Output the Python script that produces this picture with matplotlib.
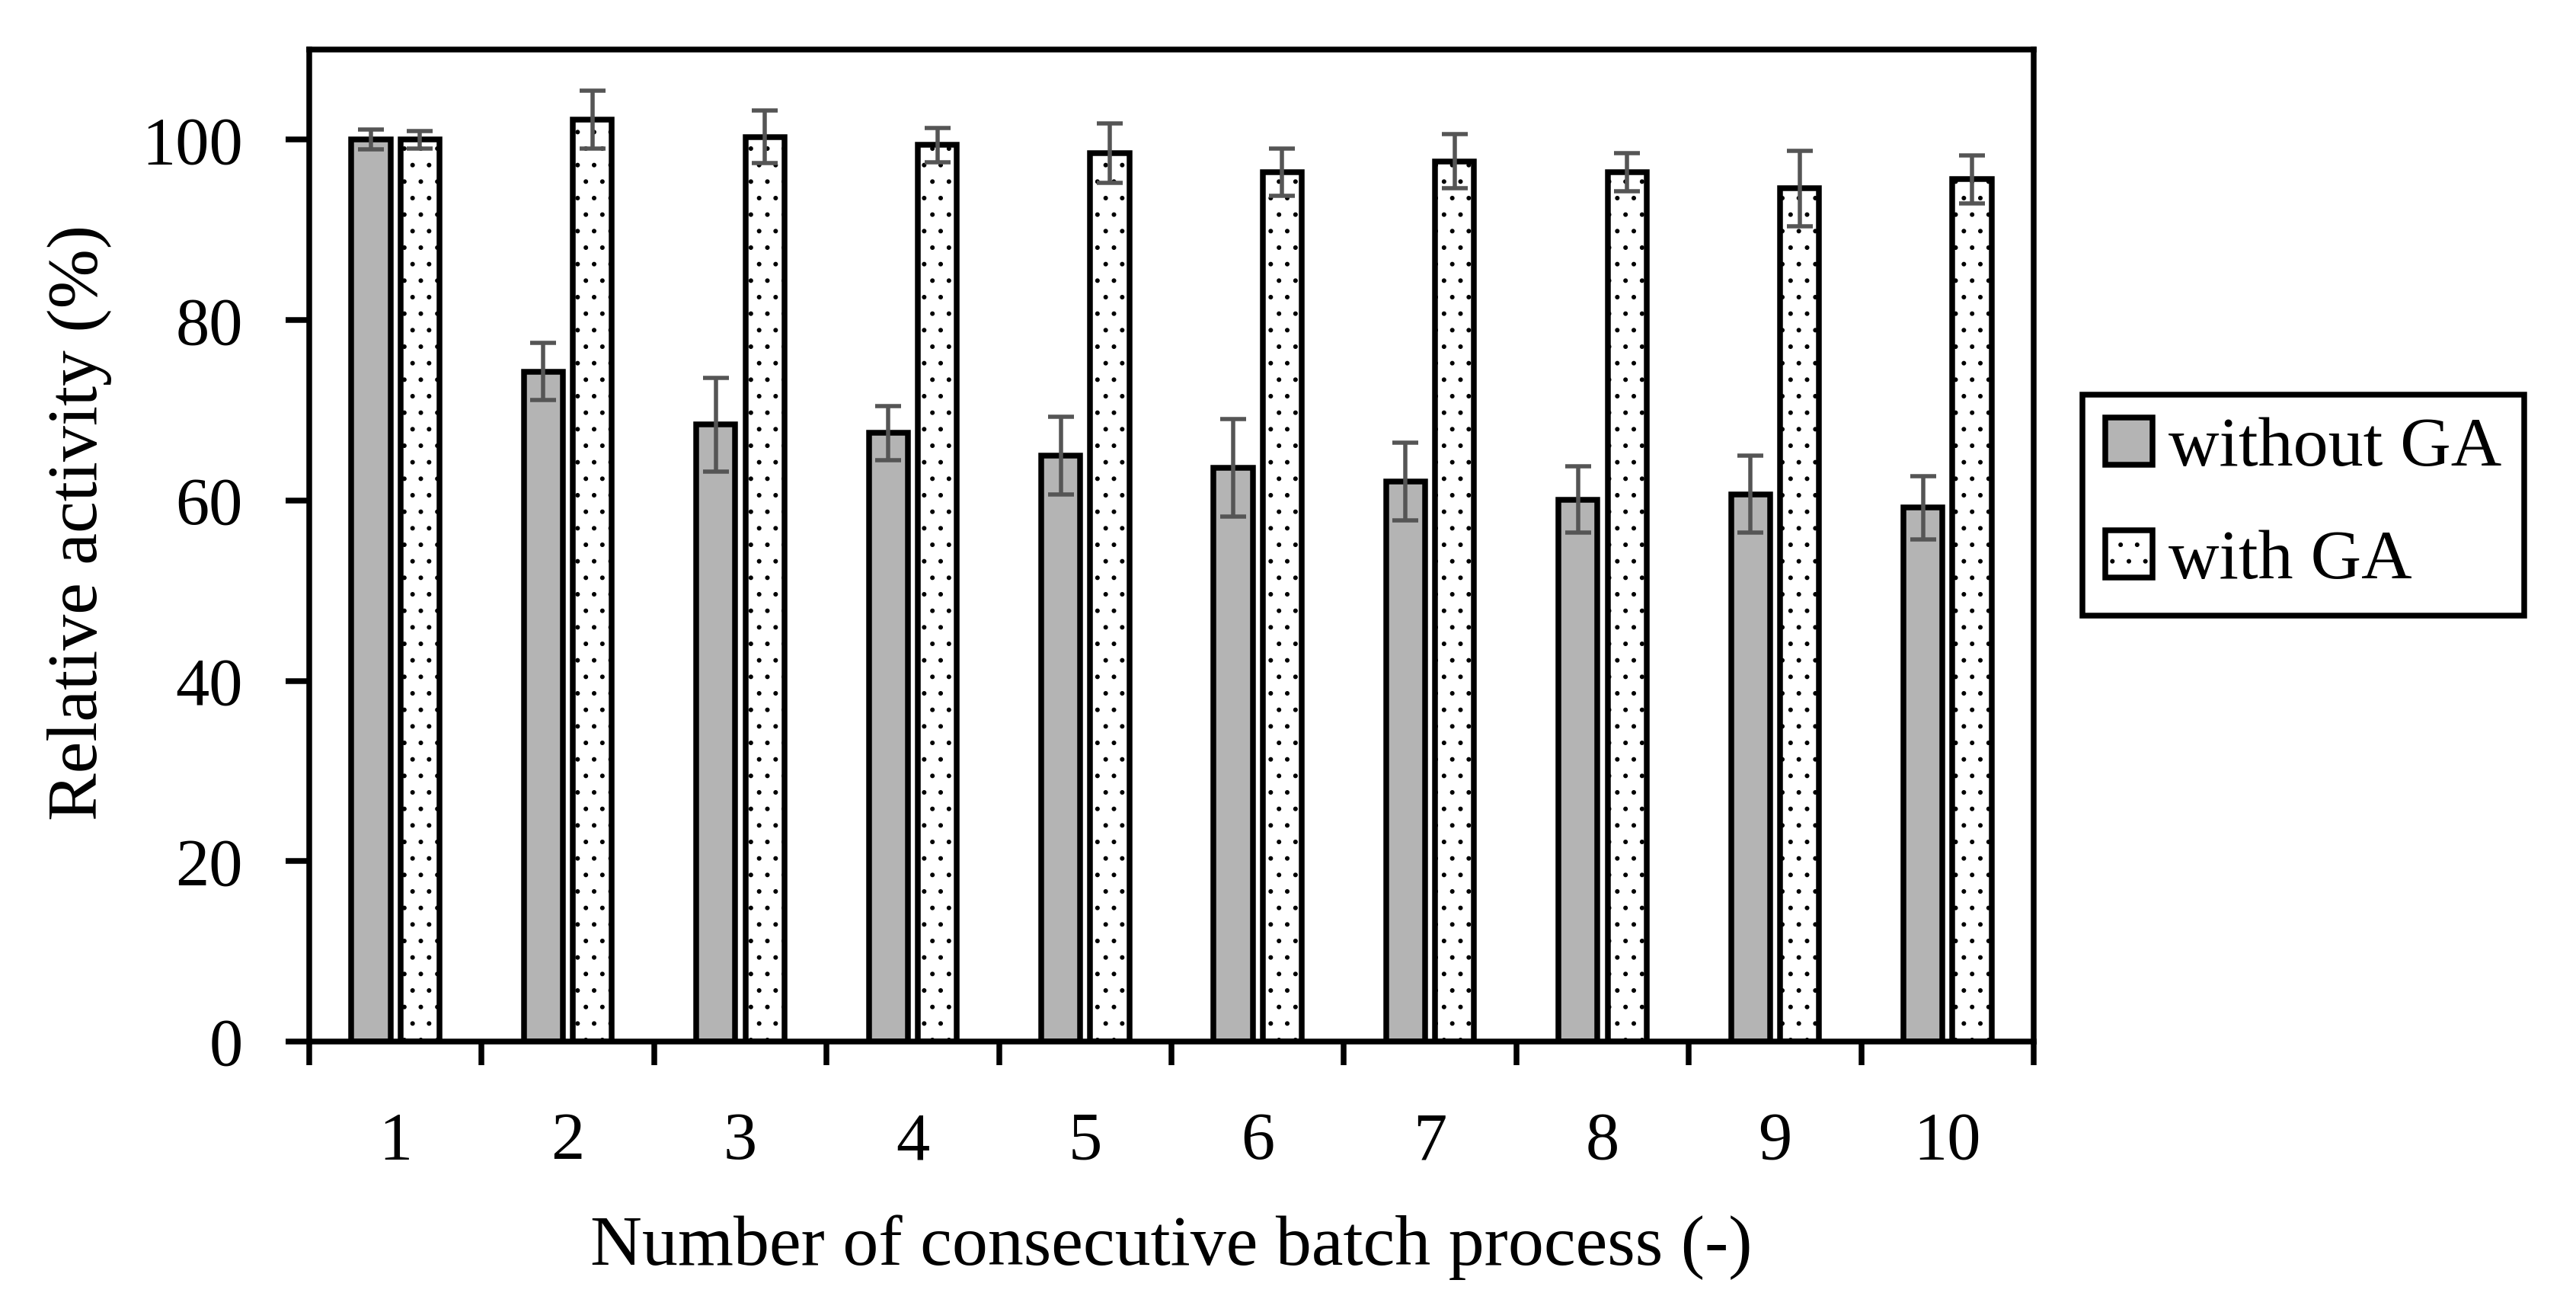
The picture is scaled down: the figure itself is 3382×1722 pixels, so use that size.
import numpy as np
import matplotlib
matplotlib.use("Agg")
import matplotlib.pyplot as plt

plt.rcParams['font.family'] = ['Liberation Serif', 'DejaVu Serif']

DPI = 130
def pt(px):
    return px * 72.0 / DPI

plt.rcParams['hatch.linewidth'] = 0.9

# ---- data ----
batches = [1, 2, 3, 4, 5, 6, 7, 8, 9, 10]
tick_labels = ['1', '2', '3', '4', '5', '6', '7', '8', '9', '10']
without_ga = [100, 74.3, 68.4, 67.5, 65.0, 63.6, 62.1, 60.1, 60.7, 59.2]
without_err = [1.1, 3.2, 5.2, 3.0, 4.3, 5.4, 4.3, 3.7, 4.3, 3.5]
with_ga = [100, 102.2, 100.3, 99.4, 98.5, 96.4, 97.6, 96.4, 94.6, 95.6]
with_err = [1.0, 3.2, 2.9, 1.9, 3.3, 2.6, 3.0, 2.1, 4.2, 2.65]
series_names = ['without GA', 'with GA']
y_ticks = [0, 20, 40, 60, 80, 100]

W, H = 3382, 1722
fig = plt.figure(figsize=(W / DPI, H / DPI), dpi=DPI)
ax = fig.add_axes([406 / W, (H - 1367) / H, (2670 - 406) / W, (1367 - 65) / H])

x = np.array(batches, dtype=float)
bw = 0.226
off = 0.142
lw = pt(7.5)

ax.bar(x - off, without_ga, width=bw, color='#b4b4b4', edgecolor='black',
       linewidth=lw, label=series_names[0], zorder=2)
ax.bar(x + off, with_ga, width=bw, color='white', edgecolor='black',
       linewidth=lw, hatch='.', label=series_names[1], zorder=2)

ekw = dict(fmt='none', ecolor='#555555', elinewidth=pt(5.5), capsize=pt(17),
           capthick=pt(5.5), zorder=3)
ax.errorbar(x - off, without_ga, yerr=without_err, **ekw)
ax.errorbar(x + off, with_ga, yerr=with_err, **ekw)

ax.set_xlim(0.5, 10.5)
ax.set_ylim(0, 110)
ax.set_yticks(y_ticks)
ax.set_yticklabels([str(v) for v in y_ticks])
ax.set_xticks(x)
ax.set_xticklabels(tick_labels)
ax.set_xticks(np.arange(0.5, 11.0, 1.0), minor=True)

fs_tick = 49
fs_label = 52
fs_leg = 51
ax.tick_params(axis='y', which='major', direction='out', length=pt(31), width=lw,
               pad=pt(56), labelsize=fs_tick, right=False)
ax.tick_params(axis='y', which='minor', left=False, right=False)
ax.tick_params(axis='x', which='major', length=0, pad=pt(92), labelsize=fs_tick, top=False)
ax.tick_params(axis='x', which='minor', direction='out', length=pt(31), width=lw, top=False)

for s in ax.spines.values():
    s.set_linewidth(lw)
    s.set_color('black')

ax.set_xlabel('Number of consecutive batch process (-)', fontsize=fs_label)
ax.xaxis.set_label_coords(0.5, -0.175)
ax.set_ylabel('Relative activity (%)', fontsize=fs_label)
ax.yaxis.set_label_coords(-0.1142, 0.523)

em = fs_leg * DPI / 72.0
leg = fig.legend(loc='center left', bbox_to_anchor=(2734 / W, 1 - 663 / H),
                 bbox_transform=fig.transFigure, borderaxespad=0, fontsize=fs_leg,
                 frameon=True, fancybox=False, shadow=False,
                 handlelength=62 / em, handleheight=60 / em,
                 handletextpad=21 / em, labelspacing=0.71,
                 borderpad=30 / em)
fr = leg.get_frame()
fr.set_edgecolor('black')
fr.set_linewidth(lw)
fr.set_alpha(None)
fr.set_facecolor('white')

fig.savefig('out.png', dpi=DPI, facecolor='white')
